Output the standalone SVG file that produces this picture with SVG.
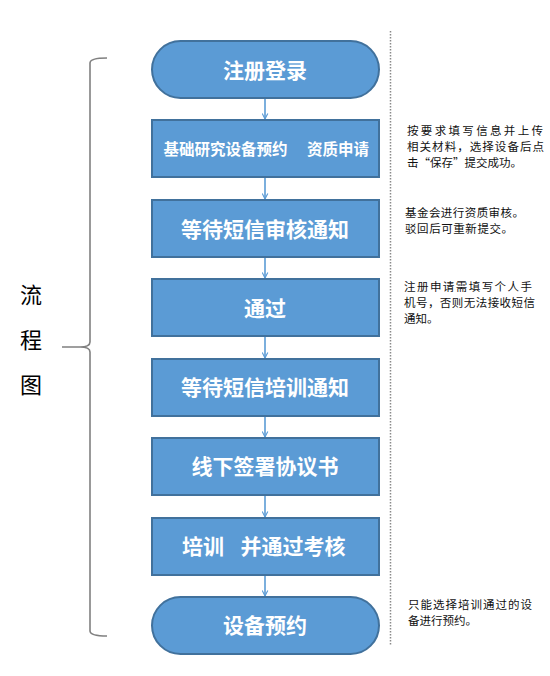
<svg xmlns="http://www.w3.org/2000/svg" width="550" height="676" viewBox="0 0 550 676">
<style>
.box{fill:#5B9BD5;stroke:#41719C;stroke-width:2}
.t{font-family:"Noto Sans CJK SC","Noto Sans",sans-serif;font-weight:bold;fill:#fff;text-anchor:middle}
.big{font-size:21px}
.note{font-family:"Noto Sans CJK SC","Noto Sans",sans-serif;font-size:11.5px;fill:#111}
.conn{stroke:#5B9BD5;stroke-width:1.6;fill:none}
.side{font-family:"Noto Sans CJK SC","Noto Sans",sans-serif;font-size:22px;fill:#000;text-anchor:middle}
</style>
<defs>
<marker id="ah" viewBox="0 0 10 10" refX="9" refY="5" markerWidth="7" markerHeight="7" orient="auto" markerUnits="userSpaceOnUse">
<path d="M1,1 L9,5 L1,9" fill="none" stroke="#5B9BD5" stroke-width="1.6"/>
</marker>
</defs>
<rect width="550" height="676" fill="#fff"/>
<g id="bracket" fill="none" stroke="#808080" stroke-width="1.6">
<path d="M107,58 Q90,58 90,63 L90,342 Q90,347 80,347 L62,347 M80,347 Q90,347 90,352 L90,631 Q90,636 107,636"/>
</g>
<g id="label">
<text class="side" x="31" y="303">流</text>
<text class="side" x="31" y="348">程</text>
<text class="side" x="31" y="393">图</text>
</g>
<line id="divider" x1="390.5" y1="31" x2="390.5" y2="646" stroke="#8a8a8a" stroke-width="1.5" stroke-dasharray="1.5,1.5"/>
<g id="connectors">
<line class="conn" x1="265" y1="99" x2="265" y2="119" marker-end="url(#ah)"/>
<line class="conn" x1="265" y1="178" x2="265" y2="199" marker-end="url(#ah)"/>
<line class="conn" x1="265" y1="257" x2="265" y2="278" marker-end="url(#ah)"/>
<line class="conn" x1="265" y1="337" x2="265" y2="358" marker-end="url(#ah)"/>
<line class="conn" x1="265" y1="416" x2="265" y2="437" marker-end="url(#ah)"/>
<line class="conn" x1="265" y1="496" x2="265" y2="517" marker-end="url(#ah)"/>
<line class="conn" x1="265" y1="575" x2="265" y2="596" marker-end="url(#ah)"/>
</g>
<g id="n1"><rect class="box" x="152" y="41" width="227" height="57" rx="28.5"/><text class="t big" x="265" y="77.5">注册登录</text></g>
<g id="n2"><rect class="box" x="152" y="120" width="227" height="57"/><text class="t" style="font-size:15.5px" y="154.5"><tspan x="225.5">基础研究设备预约</tspan><tspan x="338">资质申请</tspan></text></g>
<g id="n3"><rect class="box" x="152" y="200" width="227" height="57"/><text class="t big" x="265" y="236.5">等待短信审核通知</text></g>
<g id="n4"><rect class="box" x="152" y="279" width="227" height="57"/><text class="t big" x="265" y="315.5">通过</text></g>
<g id="n5"><rect class="box" x="152" y="359" width="227" height="57"/><text class="t big" x="265" y="395">等待短信培训通知</text></g>
<g id="n6"><rect class="box" x="152" y="438" width="227" height="57"/><text class="t big" x="265" y="474">线下签署协议书</text></g>
<g id="n7"><rect class="box" x="152" y="518" width="227" height="57"/><text class="t big" y="554"><tspan x="203">培训</tspan><tspan x="293">并通过考核</tspan></text></g>
<g id="n8"><rect class="box" x="152" y="597" width="227" height="57" rx="28.5"/><text class="t big" x="265" y="632.5">设备预约</text></g>
<g id="notes">
<text class="note" x="407" y="135" textLength="136" lengthAdjust="spacing">按要求填写信息并上传</text>
<text class="note" x="407" y="151" textLength="137" lengthAdjust="spacing">相关材料，选择设备后点</text>
<text class="note" x="407" y="167">击“保存”提交成功。</text>
<text class="note" x="405" y="217" textLength="119" lengthAdjust="spacing">基金会进行资质审核。</text>
<text class="note" x="405" y="233" textLength="108" lengthAdjust="spacing">驳回后可重新提交。</text>
<text class="note" x="404" y="291" textLength="128" lengthAdjust="spacing">注册申请需填写个人手</text>
<text class="note" x="404" y="307" textLength="131" lengthAdjust="spacing">机号，否则无法接收短信</text>
<text class="note" x="404" y="323">通知。</text>
<text class="note" x="408" y="609" textLength="124" lengthAdjust="spacing">只能选择培训通过的设</text>
<text class="note" x="408" y="625">备进行预约。</text>
</g>
</svg>
